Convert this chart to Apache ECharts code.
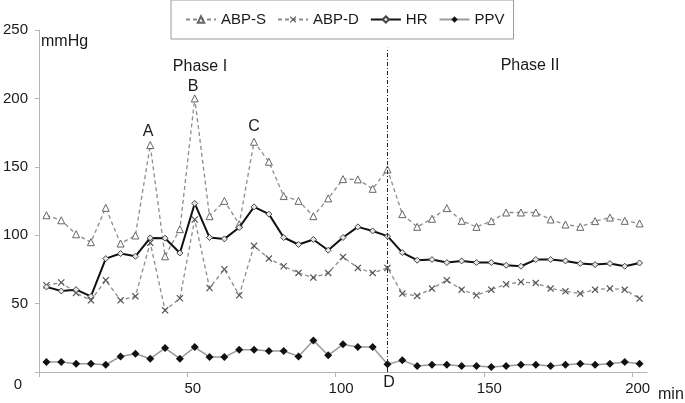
<!DOCTYPE html>
<html>
<head>
<meta charset="utf-8">
<script src="https://cdn.jsdelivr.net/npm/echarts@6/dist/echarts.min.js"></script>
<style>
html,body{margin:0;padding:0;background:#fff;}
#c{width:685px;height:403px;}
</style>
</head>
<body>
<div id="c"></div>
<script>
// time (min)
var minutes = [2.5,7.5,12.5,17.5,22.5,27.5,32.5,37.5,42.5,47.5,52.5,57.5,62.5,67.5,72.5,77.5,82.5,87.5,92.5,97.5,102.5,107.5,112.5,117.5,122.5,127.5,132.5,137.5,142.5,147.5,152.5,157.5,162.5,167.5,172.5,177.5,182.5,187.5,192.5,197.5,202.5];
var abpS = [114.6,110.9,100.7,94.9,120,93.9,99.8,165.9,84.6,104.4,200,113.9,125.1,108,168.3,153.7,128.6,125.1,113.9,126.9,141,140.8,133.9,148.1,115.4,106.1,112,119.8,110.5,106.1,110.3,116.6,116.6,116.6,111.5,107.8,106.1,110.3,112.9,110.5,108.6];
var abpD = [63.4,65.4,57.8,52.4,67.1,52.4,55.3,94.4,45.1,53.9,111.5,61.4,75.1,56.1,92.2,82.9,77.3,72.4,69,72.4,84.1,76.1,72.4,76.1,57.3,55.6,61,67.1,60.2,56.1,60.2,64.1,65.8,65.1,61,59,57.3,60.2,61,60.2,53.7];
var hr = [62.2,59.2,60.2,55.3,82.9,86.6,84.6,98,97.8,87,123.2,98.3,97.3,105.6,120.7,115.4,98.3,93.2,96.9,89,98.3,106.1,103.1,99.3,87.3,81.7,82.2,80,81.2,80,80,78,77.3,82.2,82.2,81.2,79.3,78.5,79.3,77.3,79.7];
var ppv = [7.3,7.3,6.1,6.1,5.3,11.4,13.4,9.7,17.5,9.7,18.2,10.9,10.9,16.3,16.3,15.3,15.3,11.4,23.1,12.2,20.2,18.2,18.2,5.6,8.5,4.3,5.3,5.3,4.3,4.3,3.6,4.3,5.3,5.3,4.3,5.3,6.1,5.3,6.1,7.3,6.1];
var seriesNames = ['ABP-S','ABP-D','HR','PPV'];
var phaseBoundary = 117.5;
var boundaryTop = 237;
var yMax = 250, yStep = 50, xMax = 205, xStep = 50;

function pairs(v){ return minutes.map(function(t,i){ return [t, v[i]]; }); }

var FONT = 'Liberation Sans';
var ANN = '16px "Liberation Sans"';
var xPath = 'path://M0,1.2L1.2,0L5,3.8L8.8,0L10,1.2L6.2,5L10,8.8L8.8,10L5,6.2L1.2,10L0,8.8L3.8,5Z';

function label(txt, x, y, font, align){
  return {type:'text', x:x, y:y, style:{text:txt, font:font||ANN, fill:'#1a1a1a', align:align||'center', verticalAlign:'middle'}};
}

var chart = echarts.init(document.getElementById('c'), null, {renderer:'canvas'});
chart.setOption({
  animation:false,
  backgroundColor:'#fff',
  textStyle:{fontFamily:FONT},
  grid:{left:37, right:38, top:30, bottom:31, containLabel:false},
  legend:{
    data:seriesNames,
    left:171, top:0,
    padding:[12,9,12,14],
    itemGap:11,
    itemWidth:30, itemHeight:8,
    borderColor:'#9a9a9a', borderWidth:1,
    textStyle:{fontSize:15, color:'#1a1a1a', fontFamily:FONT}
  },
  xAxis:{
    type:'value', min:0, max:xMax, interval:xStep,
    axisLine:{show:true, lineStyle:{color:'#b5b5b5', width:1}},
    axisTick:{show:true, length:5, lineStyle:{color:'#b5b5b5'}},
    splitLine:{show:false},
    axisLabel:{fontSize:15, color:'#1a1a1a', margin:9, padding:[0,0,0,11],
      formatter:function(v){ return v===0 ? '' : String(v); }}
  },
  yAxis:{
    type:'value', min:0, max:yMax, interval:yStep,
    axisLine:{show:true, lineStyle:{color:'#b5b5b5', width:1}},
    axisTick:{show:true, length:4, lineStyle:{color:'#b5b5b5'}},
    splitLine:{show:false},
    axisLabel:{fontSize:15, color:'#1a1a1a', margin:11,
      formatter:function(v){ return v===0 ? '' : String(v); }}
  },
  series:[
    {name:'ABP-S', type:'line', data:pairs(abpS), symbol:'triangle', symbolSize:7,
     lineStyle:{color:'#8c8c8c', width:1.3, type:[4,3]},
     itemStyle:{color:'#fff', borderColor:'#666', borderWidth:1}, z:2},
    {name:'ABP-D', type:'line', data:pairs(abpD), symbol:xPath, symbolSize:7,
     lineStyle:{color:'#8c8c8c', width:1.3, type:[4,3]},
     itemStyle:{color:'#555', borderWidth:0}, z:2},
    {name:'HR', type:'line', data:pairs(hr), symbol:'diamond', symbolSize:6,
     lineStyle:{color:'#111', width:2},
     itemStyle:{color:'#e6e6e6', borderColor:'#444', borderWidth:1}, z:3,
     markLine:{silent:true, symbol:'none', label:{show:false},
       lineStyle:{color:'#222', width:1, type:[4,2,1,2]},
       data:[[{coord:[phaseBoundary,0]},{coord:[phaseBoundary,boundaryTop]}]]}},
    {name:'PPV', type:'line', data:pairs(ppv), symbol:'diamond', symbolSize:8,
     lineStyle:{color:'#9a9a9a', width:1.5},
     itemStyle:{color:'#111', borderColor:'#111', borderWidth:0}, z:3}
  ],
  graphic:[
    label('mmHg', 41, 42, null, 'left'),
    label('min', 658, 395, null, 'left'),
    label('0', 18, 385, '15px "Liberation Sans"'),
    label('Phase I', 200, 67),
    label('Phase II', 530, 66),
    label('A', 148, 132),
    label('B', 193, 87),
    label('C', 254, 127),
    label('D', 389, 383)
  ]
});
</script>
</body>
</html>
